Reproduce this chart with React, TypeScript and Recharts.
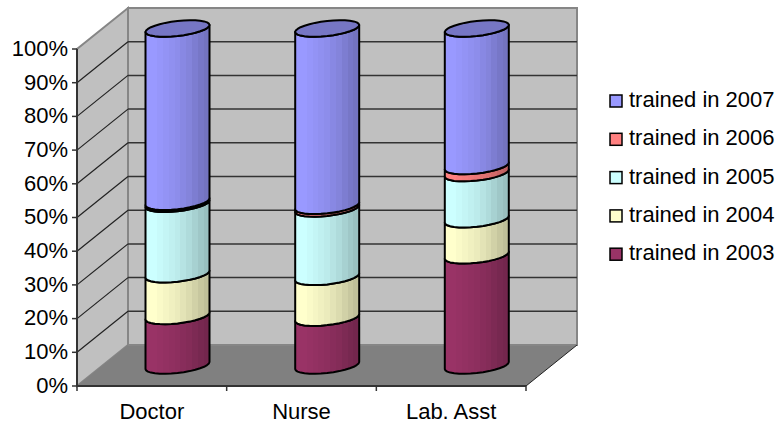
import { BarChart, Bar, XAxis, YAxis, CartesianGrid } from "recharts";

const categories = ["Doctor", "Nurse", "Lab. Asst"];
const seriesNames = ["trained in 2003", "trained in 2004", "trained in 2005", "trained in 2006", "trained in 2007"];
const trained2003 = [14.7, 14.2, 32.7];
const trained2004 = [12.4, 12.1, 10.7];
const trained2005 = [20.9, 20.3, 13.7];
const trained2006 = [0.6, 0.8, 2.1];
const trained2007 = [51.4, 52.6, 40.8];
const seriesValues = [trained2003, trained2004, trained2005, trained2006, trained2007];
const seriesColors = ["#993366", "#ffffcc", "#ccffff", "#ff8080", "#9999ff"];
const yTicks = [0, 10, 20, 30, 40, 50, 60, 70, 80, 90, 100];

const chartData = categories.map((name, i) => {
  const row: any = { name };
  seriesNames.forEach((s, j) => (row[s] = seriesValues[j][i]));
  return row;
});

const LEFT = 77;
const TOP = 49;
const RIGHT = 526;
const BOTTOM = 386;
const DX = 51;
const DY = 41;
const FONT = "'Liberation Sans', Arial, sans-serif";
const FONT_SIZE = 22;

const facetShades = [1, 1, 0.98, 0.96, 0.94, 0.92, 0.89, 0.86, 0.82, 0.78, 0.75];

function shade(hex: string, f: number) {
  const n = parseInt(hex.slice(1), 16);
  const c = [(n >> 16) & 255, (n >> 8) & 255, n & 255].map((v) => Math.round(v * f));
  return `rgb(${c[0]},${c[1]},${c[2]})`;
}

// lower half of the tilted cylinder rim, left to right
function rim(cx: number, cy: number, r: number) {
  const pts: string[] = [];
  for (let i = 0; i <= 16; i++) {
    const t = Math.PI - (Math.PI * i) / 16;
    pts.push(`${(cx + r * Math.cos(t)).toFixed(1)},${(cy - 3.5 * Math.cos(t) + 7.5 * Math.sin(t)).toFixed(1)}`);
  }
  return pts;
}

function Cylinder(props: any) {
  const { x, y, width, height, seriesIndex } = props;
  const cx = x + width / 2 + DX / 2;
  const r = width / 2;
  const top = y - DY / 2;
  const bottom = y + height - DY / 2;
  const low = rim(cx, bottom, r);
  const high = rim(cx, top, r).reverse();
  const isLast = seriesIndex === seriesNames.length - 1;
  const capBack = rim(cx, top, r).map((p) => {
    const [px, py] = p.split(",").map(Number);
    return `${2 * cx - px},${2 * top - py}`;
  });
  return (
    <g>
      <path
        d={`M${low.join(" L")} L${high.join(" L")} Z`}
        fill={`url(#facet${seriesIndex})`}
        stroke="#000"
        strokeWidth={2}
        strokeLinejoin="round"
      />
      {isLast && (
        <path
          d={`M${rim(cx, top, r).join(" L")} L${capBack.join(" L")} Z`}
          fill={shade(seriesColors[seriesIndex], 0.77)}
          stroke="#000"
          strokeWidth={2}
          strokeLinejoin="round"
        />
      )}
    </g>
  );
}

// walls and floor sit in their own svg under the transparent chart
function Backdrop() {
  return (
    <svg width={778} height={424} style={{ position: "absolute", left: 0, top: 0 }}>
      <polygon
        points={`${LEFT},${BOTTOM} ${LEFT + DX},${BOTTOM - DY} ${LEFT + DX},${TOP - DY} ${LEFT},${TOP}`}
        fill="#c0c0c0"
        stroke="#868686"
        strokeWidth={2}
      />
      <polygon
        points={`${LEFT + DX},${BOTTOM - DY} ${RIGHT + DX},${BOTTOM - DY} ${RIGHT + DX},${TOP - DY} ${LEFT + DX},${TOP - DY}`}
        fill="#c0c0c0"
        stroke="#868686"
        strokeWidth={2}
      />
      <polygon
        points={`${LEFT},${BOTTOM} ${RIGHT},${BOTTOM} ${RIGHT + DX},${BOTTOM - DY} ${LEFT + DX},${BOTTOM - DY}`}
        fill="#808080"
      />
      <line x1={LEFT + DX} y1={BOTTOM - DY} x2={RIGHT + DX} y2={BOTTOM - DY} stroke="#868686" strokeWidth={2} />
      <line x1={RIGHT} y1={BOTTOM} x2={RIGHT + DX} y2={BOTTOM - DY} stroke="#222" strokeWidth={1} />
    </svg>
  );
}

function WallLine(props: any) {
  const { x1, y1, x2, key } = props;
  if (y1 <= TOP + 1 || y1 >= BOTTOM - 1) return <g key={key} />;
  return (
    <g key={key}>
      <line x1={x1} y1={y1} x2={x1 + DX} y2={y1 - DY} stroke="#222" strokeWidth={1.2} />
      <line x1={x1 + DX} y1={y1 - DY} x2={x2 + DX} y2={y1 - DY} stroke="#333" strokeWidth={1.5} />
    </g>
  );
}

function CategoryTick(props: any) {
  const { x, y, payload, index } = props;
  const half = (RIGHT - LEFT) / categories.length / 2;
  return (
    <g>
      <line x1={x - half} y1={BOTTOM} x2={x - half} y2={BOTTOM + 5} stroke="#333" strokeWidth={1.5} />
      {index === categories.length - 1 && (
        <line x1={x + half} y1={BOTTOM} x2={x + half} y2={BOTTOM + 5} stroke="#333" strokeWidth={1.5} />
      )}
      <text x={x} y={y + 25} textAnchor="middle" fontFamily={FONT} fontSize={FONT_SIZE} fill="#000">
        {payload.value}
      </text>
    </g>
  );
}

function SideLegend() {
  const names = [...seriesNames].reverse();
  return (
    <g>
      {names.map((name, i) => {
        const cy = 101 + i * 38.3;
        return (
          <g key={name}>
            <rect
              x={610}
              y={cy - 6}
              width={12}
              height={12}
              fill={seriesColors[seriesNames.indexOf(name)]}
              stroke="#000"
              strokeWidth={1.5}
            />
            <text x={629} y={cy + 6} fontFamily={FONT} fontSize={FONT_SIZE} fill="#000">
              {name}
            </text>
          </g>
        );
      })}
    </g>
  );
}

export default function App() {
  return (
    <div style={{ position: "absolute", left: 0, top: 0, width: 778, height: 424, background: "#fff" }}>
      <Backdrop />
      <BarChart
        width={778}
        height={424}
        data={chartData}
        margin={{ top: TOP, right: 778 - RIGHT, bottom: 0, left: 0 }}
      >
        <defs>
          {seriesColors.map((color, s) => (
            <linearGradient key={color} id={`facet${s}`} x1="0" y1="0" x2="1" y2="0">
              {facetShades.map((f, i) => [
                <stop key={`a${i}`} offset={i / facetShades.length} stopColor={shade(color, f)} />,
                <stop key={`b${i}`} offset={(i + 1) / facetShades.length} stopColor={shade(color, f)} />,
              ])}
            </linearGradient>
          ))}
        </defs>
        <CartesianGrid vertical={false} horizontal={WallLine as any} />
        <XAxis
          dataKey="name"
          height={424 - BOTTOM}
          tick={<CategoryTick />}
          tickLine={false}
          axisLine={{ stroke: "#333", strokeWidth: 2 }}
          interval={0}
        />
        <YAxis
          width={LEFT}
          domain={[0, 100]}
          ticks={yTicks}
          interval={0}
          tickFormatter={(v: number) => `${v}%`}
          tick={{ fontFamily: FONT, fontSize: FONT_SIZE, fill: "#000", dy: -1 }}
          tickLine={{ stroke: "#333", strokeWidth: 1.5 }}
          tickSize={5}
          tickMargin={4}
          axisLine={{ stroke: "#333", strokeWidth: 2 }}
        />
        {seriesNames.map((name, s) => (
          <Bar
            key={name}
            dataKey={name}
            stackId="a"
            barSize={64}
            isAnimationActive={false}
            fill={seriesColors[s]}
            shape={(p: any) => <Cylinder {...p} seriesIndex={s} />}
          />
        ))}
        <SideLegend />
      </BarChart>
    </div>
  );
}
